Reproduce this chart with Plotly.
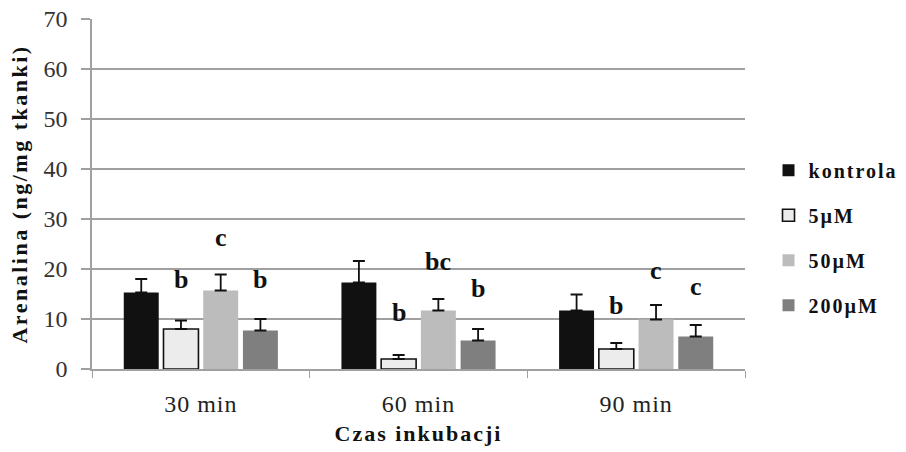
import plotly.graph_objects as go

categories = ["30 min", "60 min", "90 min"]
series_names = ["kontrola", "5\u00b5M", "50\u00b5M", "200\u00b5M"]
kontrola = [15.3, 17.3, 11.7]
kontrola_err = [2.7, 4.3, 3.2]
um5 = [8.0, 2.0, 4.0]
um5_err = [1.7, 0.8, 1.2]
um50 = [15.7, 11.7, 9.9]
um50_err = [3.2, 2.3, 2.9]
um200 = [7.7, 5.7, 6.5]
um200_err = [2.3, 2.3, 2.3]

# significance letters: (category index, series index, label, y position)
letters = [
    (0, 1, "b", 17.9), (0, 2, "c", 26.3), (0, 3, "b", 17.9),
    (1, 1, "b", 11.3), (1, 2, "bc", 21.5), (1, 3, "b", 16.2),
    (2, 1, "b", 12.7), (2, 2, "c", 19.7), (2, 3, "c", 16.5),
]

values = [kontrola, um5, um50, um200]
errors = [kontrola_err, um5_err, um50_err, um200_err]
fills = ["#111111", "#ececec", "#bcbcbc", "#7f7f7f"]
outlines = ["#111111", "#111111", "#bcbcbc", "#7f7f7f"]
outline_w = [0, 1.6, 0, 0]

SERIF = "Liberation Serif, Times New Roman, serif"


def spaced(text, px):
    return '<span style="letter-spacing:%spx">%s</span>' % (px, text)


fig = go.Figure()
for i, name in enumerate(series_names):
    fig.add_trace(go.Bar(
        x=categories, y=values[i], name=spaced(name, 2),
        marker=dict(color=fills[i], line=dict(color=outlines[i], width=outline_w[i])),
        error_y=dict(type="data", array=errors[i], symmetric=False,
                     arrayminus=[0] * len(categories),
                     color="#111111", thickness=1.8, width=6),
        legendgroup=name,
    ))

bargap = 0.27
slot = (1 - bargap) / len(series_names)
for ci, si, lab, yv in letters:
    fig.add_annotation(
        x=ci + (si - (len(series_names) - 1) / 2) * slot, y=yv,
        xref="x", yref="y", text="<b>%s</b>" % lab, showarrow=False,
        font=dict(family=SERIF, size=26, color="#111111"),
    )

fig.update_layout(
    width=906, height=452,
    margin=dict(l=92, r=161, t=19, b=82.5, autoexpand=False),
    paper_bgcolor="white", plot_bgcolor="white",
    barmode="group", bargap=bargap, bargroupgap=0.12,
    font=dict(family=SERIF, color="#111111"),
    legend=dict(
        x=1.036, y=0.375, xanchor="left", yanchor="middle",
        font=dict(family=SERIF, size=20, color="#111111", weight="bold"),
        itemwidth=30, tracegroupgap=16, bgcolor="rgba(0,0,0,0)",
    ),
    xaxis=dict(
        type="category", showgrid=False, showline=True, linecolor="#a0a0a0", linewidth=1.5,
        ticks="outside", tickson="boundaries", ticklen=7, tickcolor="#a0a0a0", tickwidth=1.2,
        tickvals=categories, ticktext=[spaced(c, 1) for c in categories],
        ticklabelstandoff=12,
        tickfont=dict(family=SERIF, size=24, color="#222222"),
        title=dict(text=spaced("<b>Czas inkubacji</b>", 2),
                   font=dict(family=SERIF, size=22, color="#111111"), standoff=10),
        range=[-0.5, 2.5],
    ),
    yaxis=dict(
        range=[0, 70], dtick=10, showgrid=True, gridcolor="#a0a0a0", gridwidth=1.5,
        showline=True, linecolor="#a0a0a0", linewidth=1.5, zeroline=False,
        ticks="outside", ticklen=9, tickcolor="#a0a0a0", tickwidth=1.5,
        ticklabelstandoff=9,
        tickfont=dict(family=SERIF, size=24, color="#333333"),
        title=dict(text=spaced("<b>Arenalina (ng/mg tkanki)</b>", 2.5),
                   font=dict(family=SERIF, size=22, color="#111111"), standoff=10),
    ),
)

fig.write_html("out.html")
